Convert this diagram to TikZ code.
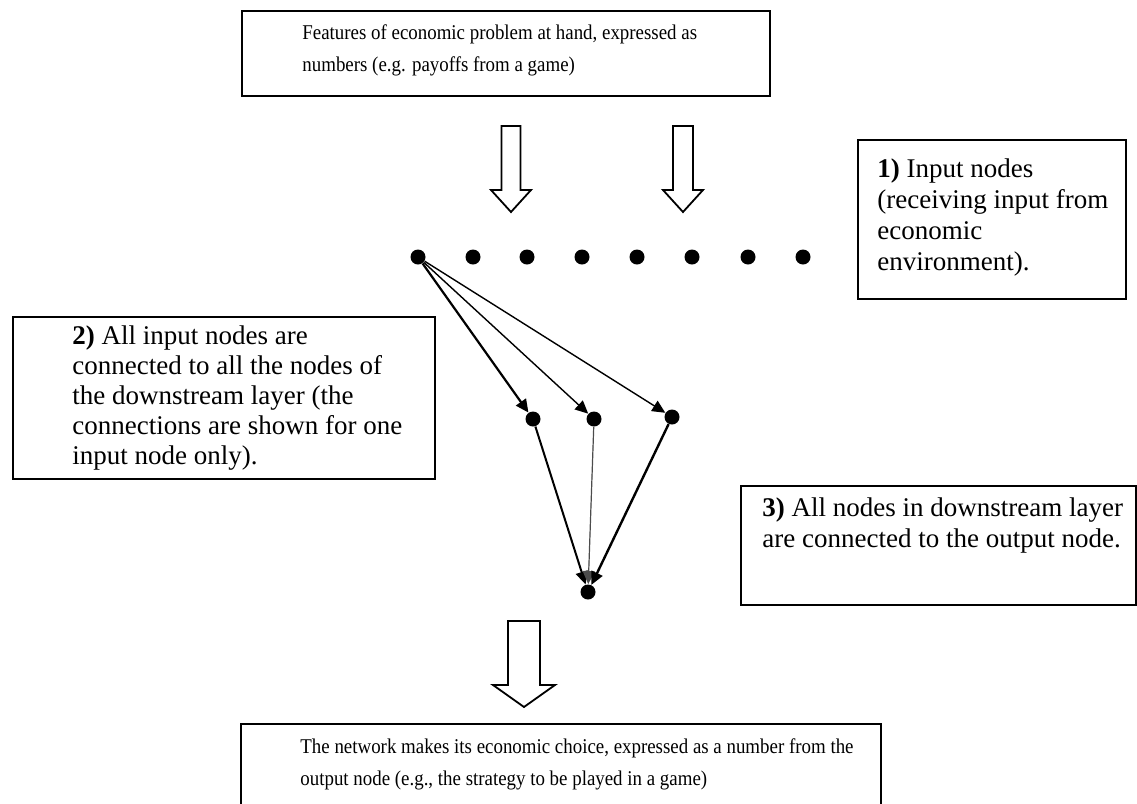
\documentclass[tikz,border=0pt]{standalone}
\usepackage{fontspec}
\setmainfont{Liberation Serif}
\newfontfamily\narrowserif[FakeStretch=0.9]{Liberation Serif}
\usetikzlibrary{arrows.meta}
\tikzstyle{frame} = [draw, line width=1pt, inner sep=0pt, anchor=north west]
\tikzstyle{small} = [inner sep=0pt, anchor=north west, align=left, font=\narrowserif\fontsize{10.5}{16}\selectfont]
\tikzstyle{big} = [inner sep=0pt, anchor=north west, align=left, font=\fontsize{13.5}{15.5}\selectfont]
\tikzstyle{dot} = [circle, fill, minimum size=7.5pt, inner sep=0pt]
\tikzstyle{link} = [-{Triangle[length=6.5pt,width=6pt]}, line width=0.7pt]
% hollow block arrow: x, top, start of head, tip, half shaft, half head
\newcommand{\blockarrow}[6]{%
  \draw[line width=0.9pt, line join=miter] ({#1-#5},#2) -- ({#1+#5},#2) -- ({#1+#5},#3)
    -- ({#1+#6},#3) -- (#1,#4) -- ({#1-#6},#3) -- ({#1-#5},#3) -- cycle;}

\begin{document}
\begin{tikzpicture}[x=0.5pt, y=-0.5pt]
\useasboundingbox (0,0) rectangle (1137,804);

% frames
\node[frame, minimum width=264pt, minimum height=42.5pt] (feat) at (241,10) {};
\node[frame, minimum width=134pt, minimum height=79.5pt] (inbox) at (857,139) {};
\node[frame, minimum width=211pt, minimum height=81pt] (allbox) at (12,316) {};
\node[frame, minimum width=197.5pt, minimum height=59.5pt] (outbox) at (740,485) {};
\node[frame, minimum width=320pt, minimum height=50pt] (choice) at (240,723) {};

% texts
\node[small] (feattext) at (302,24) {Features of economic problem at hand, expressed as\\
  numbers (e.g. payoffs from a game)};
\node[big] (intext) at (877,158) {\textbf{1)} Input nodes\\
  (receiving input from\\ economic\\ environment).};
\node[big, font=\fontsize{13.5}{15}\selectfont] (alltext) at (72,325) {\textbf{2)} All input nodes are\\
  connected to all the nodes of\\ the downstream layer (the\\
  connections are shown for one\\ input node only).};
\node[big] (outtext) at (762,497) {\textbf{3)} All nodes in downstream layer\\
  are connected to the output node.};
\node[small] (choicetext) at (300,738) {The network makes its economic choice, expressed as a number from the\\
  output node (e.g., the strategy to be played in a game)};

% block arrows
\blockarrow{511}{126}{190}{212}{9.5}{20}
\blockarrow{683}{126}{190}{212}{10}{20}
\blockarrow{524}{621}{685}{707}{16}{31}

% input layer
\foreach \x [count=\i] in {418,473,527,582,637,692,748,803}
  \node[dot] (in\i) at (\x,257) {};

% downstream layer and output
\node[dot] (h1) at (533,419) {};
\node[dot] (h2) at (594,419) {};
\node[dot] (h3) at (672,417) {};
\node[dot] (out) at (588,592) {};

\draw[link, line width=1.1pt] (in1) -- (h1);
\draw[link] (in1) -- (h2);
\draw[link] (in1) -- (h3);
\draw[link, line width=1pt] (h1) -- (out);
\draw[link, draw=black!70, fill=black, line width=0.6pt] (h2) -- (out);
\draw[link, line width=1.2pt] (h3) -- (out);
\end{tikzpicture}
\end{document}
